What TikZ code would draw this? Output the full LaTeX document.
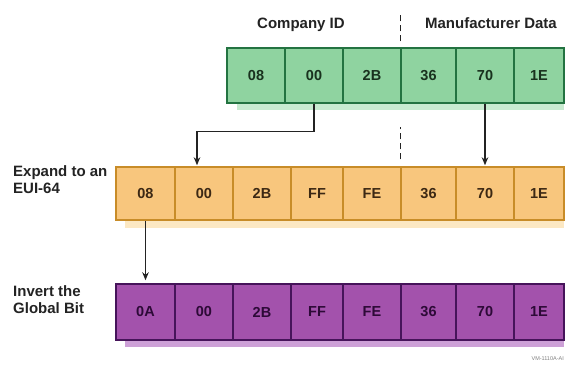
\documentclass[tikz,border=0pt]{standalone}
\usepackage{fontspec}
\setmainfont{Liberation Sans}
\usetikzlibrary{calc,arrows.meta}
\definecolor{gfill}{RGB}{143,211,160}
\definecolor{gdraw}{RGB}{35,115,65}
\definecolor{gshadow}{RGB}{200,235,208}
\definecolor{gtext}{RGB}{25,50,30}
\definecolor{ofill}{RGB}{248,198,125}
\definecolor{odraw}{RGB}{200,140,40}
\definecolor{oshadow}{RGB}{252,232,195}
\definecolor{otext}{RGB}{60,40,20}
\definecolor{pfill}{RGB}{163,82,172}
\definecolor{pdraw}{RGB}{70,20,90}
\definecolor{pshadow}{RGB}{205,160,215}
\definecolor{ptext}{RGB}{45,10,55}
\definecolor{ink}{RGB}{35,35,35}
\tikzset{
 cellbase/.style={rectangle,inner sep=0pt,line width=1.5pt,font=\fontsize{14.5}{17}\selectfont\bfseries},
 gcell/.style={cellbase,draw=gdraw,fill=gfill,text=gtext,minimum height=55pt},
 ocell/.style={cellbase,draw=odraw,fill=ofill,text=otext,minimum height=53pt},
 pcell/.style={cellbase,draw=pdraw,fill=pfill,text=ptext,minimum height=56pt},
 lbl/.style={font=\fontsize{15}{17.5}\selectfont\bfseries,text=ink,inner sep=0pt},
 conn/.style={draw=ink,line width=1.2pt,-{Stealth[length=8pt,width=6.5pt]}},
 divider/.style={draw=ink,line width=1.2pt,dash pattern=on 6pt off 4pt},
}
\begin{document}
\begin{tikzpicture}[x=1pt,y=-1pt]
\fill[white] (0,0) rectangle (565,368);
\useasboundingbox (0,0) rectangle (565,368);
% shadows
\fill[gshadow] (237,103.75) rectangle (564,110);
\fill[oshadow] (125,220.75) rectangle (564,228);
\fill[pshadow] (125,340.75) rectangle (564,347);
% green row
\foreach \n/\c/\w/\t in {1/256/58/08,2/314/58/00,3/372/58/2B,4/428.5/55/36,5/485/58/70,6/539/50/1E}
  \node[gcell,minimum width=\w pt] (g\n) at (\c,75.5) {\t};
% orange row
\foreach \n/\c/\w/\t in {1/145.5/59/08,2/204/58/00,3/262/58/2B,4/317/52/FF,5/372/58/FE,6/428.5/55/36,7/485/58/70,8/539/50/1E}
  \node[ocell,minimum width=\w pt] (o\n) at (\c,193.5) {\t};
% purple row
\foreach \n/\c/\w/\t in {1/145.5/59/0A,2/204/58/00,3/262/58/2B,4/317/52/FF,5/372/58/FE,6/428.5/55/36,7/485/58/70,8/539/50/1E}
  \node[pcell,minimum width=\w pt] (p\n) at (\c,312) {\t};
% labels
\node[lbl,anchor=base] (lblCompany) at (301,28) {Company ID};
\node[lbl,anchor=base] (lblManu) at (491,28) {Manufacturer Data};
\node[lbl,anchor=north west,align=left] (lblExpand) at (13,165) {Expand to an\\EUI-64};
\node[lbl,anchor=north west,align=left] (lblInvert) at (13,285) {Invert the\\Global Bit};
\node[font=\fontsize{5.5}{6}\selectfont,text=gray,inner sep=0pt,anchor=base east] (lblVM) at (564,360) {VM-1110A-AI};
% dividers
\draw[divider] ($(g4.north west)+(0,-6)$) -- ++(0,-28);
\draw[divider] ($(o6.north west)+(0,-7)$) -- ++(0,-32);
% connectors
\draw[conn] (g2.south) -- ++(0,28) -| ($(o2.north)+(-7,-1)$);
\draw[conn] (g5.south) -- ($(o7.north)+(0,-1)$);
\draw[conn] (o1.south) -- ($(p1.north)+(0,-3)$);
\end{tikzpicture}
\end{document}
